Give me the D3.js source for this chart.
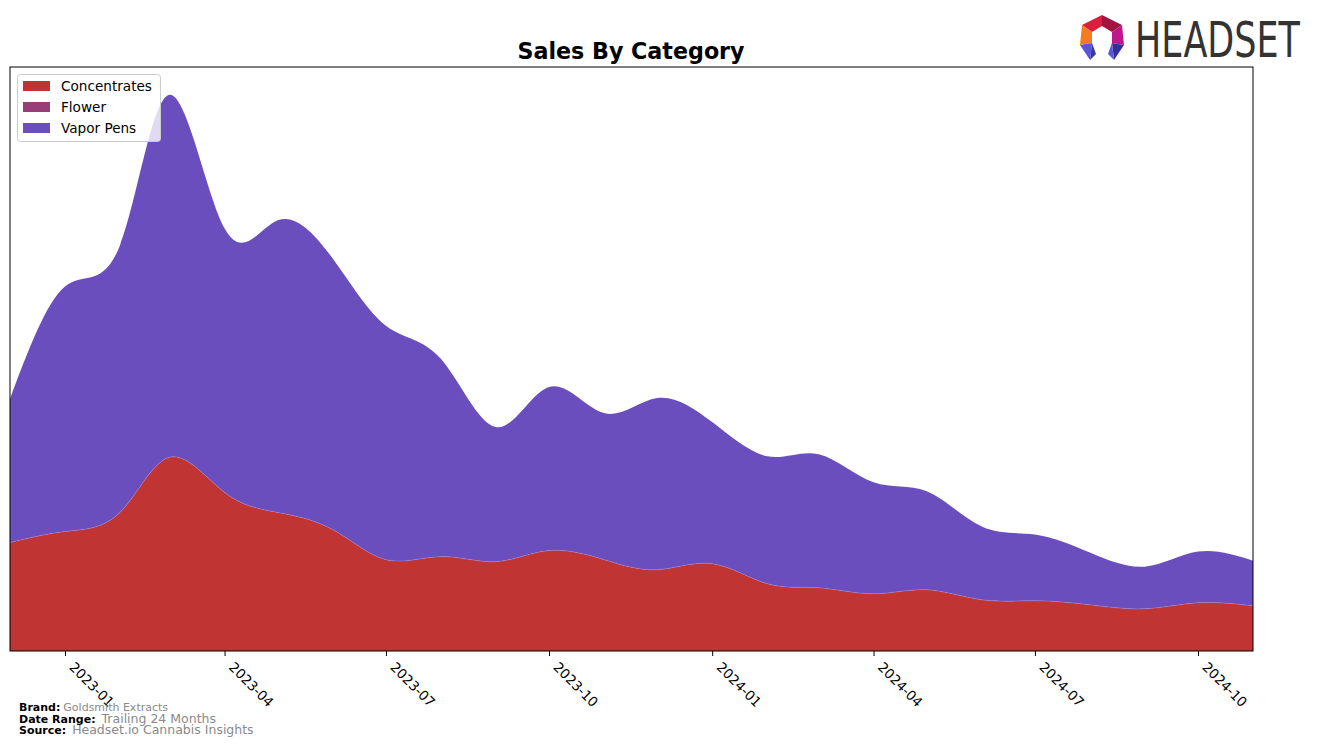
<!DOCTYPE html>
<html>
<head>
<meta charset="utf-8">
<script src="https://cdn.jsdelivr.net/npm/d3@7"></script>
<style>
  html, body { margin: 0; padding: 0; background: #fff; }
  svg { display: block; }
  text { font-family: "DejaVu Sans", sans-serif; }
</style>
</head>
<body>
<svg id="chart" width="1317" height="747"></svg>
<script>
// ---- data ----
const months = ["2022-12","2023-01","2023-02","2023-03","2023-04","2023-05","2023-06","2023-07","2023-08","2023-09","2023-10","2023-11","2023-12","2024-01","2024-02","2024-03","2024-04","2024-05","2024-06","2024-07","2024-08","2024-09","2024-10","2024-11"];
const concentrates = [10800,11900,13800,19300,15800,13800,12100,9100,9400,8900,10000,9100,8100,8700,6700,6300,5700,6100,5100,5000,4600,4200,4800,4500];
const flower = [0,0,0,0,0,0,0,0,0,0,0,0,0,0,0,0,0,0,0,0,0,0,0,0];
const vaporPens = [14300,24400,26600,36100,26300,29100,27000,23300,19700,13400,16300,14600,17100,14100,12700,13300,11100,9800,7300,6600,5200,4200,5100,4500];
const categories = ["Concentrates","Flower","Vapor Pens"];
const colors = ["#c13434","#993d76","#6a4ebe"];
const tickLabels = ["2023-01","2023-04","2023-07","2023-10","2024-01","2024-04","2024-07","2024-10"];

const parse = d3.timeParse("%Y-%m");
const rows = months.map((m, i) => ({
  date: parse(m),
  "Concentrates": concentrates[i],
  "Flower": flower[i],
  "Vapor Pens": vaporPens[i]
}));

const svg = d3.select("#chart");
const L = 10, R = 1253, T = 67, B = 651;

const x = d3.scaleTime()
  .domain(d3.extent(rows, d => d.date))
  .range([L, R]);

const stack = d3.stack().keys(categories);
const series = stack(rows);
const maxTotal = d3.max(series[series.length - 1], d => d[1]);
const y = d3.scaleLinear().domain([0, maxTotal * 1.05]).range([B, T]);

const area = d3.area()
  .x(d => x(d.data.date))
  .y0(d => y(d[0]))
  .y1(d => y(d[1]))
  .curve(d3.curveNatural);

svg.append("defs").append("clipPath").attr("id", "plotclip")
  .append("rect").attr("x", L).attr("y", T).attr("width", R - L).attr("height", B - T);

const g = svg.append("g").attr("clip-path", "url(#plotclip)");
g.selectAll("path.layer")
  .data(series)
  .join("path")
  .attr("class", "layer")
  .attr("d", area)
  .attr("fill", (d, i) => colors[i]);

// faint edge on the concentrates top
const edge = d3.line()
  .x(d => x(d.data.date))
  .y(d => y(d[1]))
  .curve(d3.curveNatural);
g.append("path")
  .attr("d", edge(series[0]))
  .attr("fill", "none")
  .attr("stroke", "#b487c8")
  .attr("stroke-opacity", 0.55)
  .attr("stroke-width", 0.8);

// frame
svg.append("rect")
  .attr("x", L).attr("y", T).attr("width", R - L).attr("height", B - T)
  .attr("fill", "none").attr("stroke", "#000").attr("stroke-width", 1);

// x axis
const tickDates = tickLabels.map(parse);
const xAxis = d3.axisBottom(x)
  .tickValues(tickDates)
  .tickSize(5)
  .tickFormat(d3.timeFormat("%Y-%m"));
const ax = svg.append("g")
  .attr("transform", `translate(0,${B})`)
  .call(xAxis);
ax.select(".domain").remove();
ax.selectAll(".tick line").attr("stroke", "#000");
ax.selectAll(".tick text")
  .attr("fill", "#000")
  .style("font-family", "DejaVu Sans")
  .style("font-size", "13.5px")
  .attr("text-anchor", "start")
  .attr("dy", null)
  .attr("y", 0)
  .attr("x", 0)
  .attr("transform", "translate(3,17) rotate(45)");

// title
svg.append("text")
  .attr("x", 631).attr("y", 59)
  .attr("text-anchor", "middle")
  .style("font-size", "22.2px").style("font-weight", "bold")
  .text("Sales By Category");

// legend
const lg = svg.append("g");
lg.append("rect")
  .attr("x", 17.5).attr("y", 74.5).attr("width", 143).attr("height", 67)
  .attr("rx", 3).attr("fill", "#fff").attr("fill-opacity", 0.8)
  .attr("stroke", "#cccccc").attr("stroke-width", 1);
categories.forEach((c, i) => {
  const yy = 86 + i * 21;
  lg.append("rect").attr("x", 23).attr("y", yy - 5).attr("width", 27).attr("height", 10).attr("fill", colors[i]);
  lg.append("text").attr("x", 61).attr("y", yy + 5)
    .style("font-size", "13.6px").attr("fill", "#000").text(c);
});

// footer
const foot = [
  ["Brand:", "Goldsmith Extracts", 711, "11px", 3],
  ["Date Range:", "Trailing 24 Months", 723, "12.5px", 6],
  ["Source:", "Headset.io Cannabis Insights", 734, "12.5px", 6]
];
foot.forEach(([lab, val, yy, fs, dx]) => {
  const t = svg.append("text").attr("x", 19).attr("y", yy);
  t.append("tspan").style("font-weight", "bold").style("font-size", "11px").attr("fill", "#000").text(lab);
  t.append("tspan").attr("dx", dx).style("font-size", fs).attr("fill", "#8a8a8a").text(val);
});

// logo
const logo = svg.append("g").attr("transform", "translate(1102,37)");
const P = {
  ot: [0,-22], oul: [-20,-12], our: [20,-12], oll: [-22,8], olr: [22,8], tl: [-12,23], tr: [12,23],
  it: [0,-11], iul: [-10,-5], iur: [10,-5], ill: [-10,6], ilr: [10,6]
};
const facets = [
  [["ot","oul","iul","it"], "#d81f3c"],
  [["ot","our","iur","it"], "#a3143e"],
  [["oul","oll","ill","iul"], "#f47b20"],
  [["our","olr","ilr","iur"], "#c0168b"],
  [["oll","tl","ill"], "#5b55d6"],
  [["olr","tr","ilr"], "#33309e"]
];
facets.forEach(([pts, col]) => {
  logo.append("polygon").attr("points", pts.map(k => P[k].join(",")).join(" ")).attr("fill", col);
});
logo.append("polygon").attr("points", [P.ill, [-6,17], P.tl].map(p => p.join(",")).join(" ")).attr("fill", "#3a35b0");
logo.append("polygon").attr("points", [P.ilr, [6,17], P.tr].map(p => p.join(",")).join(" ")).attr("fill", "#5b55d6");
svg.append("text")
  .attr("transform", "translate(1135,57) scale(0.7,1)")
  .attr("x", 0).attr("y", 0)
  .style("font-size", "50px").attr("fill", "#333333")
  .text("HEADSET");
</script>
</body>
</html>
